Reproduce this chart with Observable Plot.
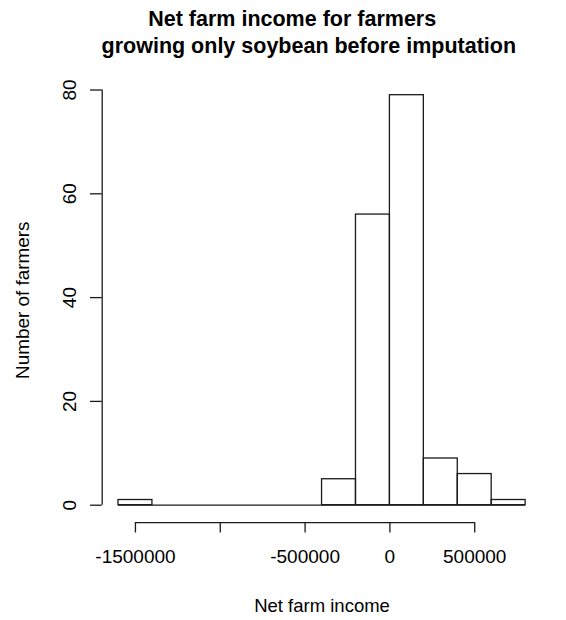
<!DOCTYPE html>
<html><head><meta charset="utf-8">
<script src="https://cdn.jsdelivr.net/npm/d3@7"></script>
<script src="https://cdn.jsdelivr.net/npm/@observablehq/plot@0.6"></script>
<style>
body{margin:0;background:#fff;font-family:"Liberation Sans",Arial,sans-serif;}
#title{width:566px;height:62px;box-sizing:border-box;padding-top:5.8px;font-weight:bold;font-size:21.5px;line-height:27.5px;color:#000;}
#title div{text-align:center;white-space:pre;}
#chart svg{display:block;}
</style></head><body>
<div id="title"><div style="padding-left:18.4px">Net farm income for farmers</div><div style="padding-left:51.6px">growing only soybean before imputation</div></div>
<div id="chart"></div>
<script>
// Histogram bins (R hist, breaks of 200000)
const binStarts = [-1600000,-1400000,-1200000,-1000000,-800000,-600000,-400000,-200000,0,200000,400000,600000];
const binEnds   = [-1400000,-1200000,-1000000,-800000,-600000,-400000,-200000,0,200000,400000,600000,800000];
const counts    = [1,0,0,0,0,0,5,56,79,9,6,1];

const xTicks = [-1500000,-1000000,-500000,0,500000];
const xTickLabels = ["-1500000","","-500000","0","500000"]; // R drops the overlapping -1000000 label
const yTicks = [0,20,40,60,80];

const xTitle = "Net farm income";
const yTitle = "Number of farmers";

const bins = binStarts.map((x0,i)=>({x0, x1: binEnds[i], count: counts[i]}));

// R "usr" extents: data range + 4% each side
const xr = [binStarts[0], binEnds[binEnds.length-1]];
const xpad = 0.04*(xr[1]-xr[0]);
const ymax = d3.max(counts);
const ypad = 0.04*ymax;

const ink = "#1a1a1a";
const font = "'Liberation Sans', Arial, sans-serif";

const chart = Plot.plot({
  width: 566, height: 558,
  marginLeft: 101.7, marginRight: 24.6, marginTop: 16.3, marginBottom: 98.9,
  x: {domain: [xr[0]-xpad, xr[1]+xpad]},
  y: {domain: [-ypad, ymax+ypad]},
  style: {fontFamily: font, background: "#fff", color: "#000", overflow: "visible"},
  marks: [
    Plot.rect(bins, {x1: "x0", x2: "x1", y1: 0, y2: "count", fill: "none", stroke: ink, strokeWidth: 1.3, inset: 0}),
    Plot.ruleY([0], {x1: xr[0], x2: xr[1], stroke: ink, strokeWidth: 1.3}),
    // x axis
    Plot.ruleY([-ypad], {x1: xTicks[0], x2: xTicks[xTicks.length-1], stroke: ink, strokeWidth: 1.3, dy: 1}),
    Plot.axisX({ticks: xTicks, tickSize: 10.4, tickFormat: () => "", label: null, stroke: ink, strokeWidth: 1.3, dy: 1}),
    Plot.text(xTicks, {x: d => d, text: (d,i) => xTickLabels[i], frameAnchor: "bottom", dy: 35.8, lineAnchor: "middle", textAnchor: "middle", fontSize: 19, fill: "#000"}),
    // y axis
    Plot.ruleX([xr[0]-xpad], {y1: yTicks[0], y2: yTicks[yTicks.length-1], stroke: ink, strokeWidth: 1.3}),
    Plot.axisY({ticks: yTicks, tickSize: 11.7, tickFormat: () => "", label: null, stroke: ink, strokeWidth: 1.3}),
    Plot.text(yTicks, {y: d => d, text: d => String(d), frameAnchor: "left", dx: -31.8, rotate: -90, lineAnchor: "middle", textAnchor: "middle", fontSize: 19, fill: "#000"}),
    // axis titles
    Plot.text([xTitle], {frameAnchor: "bottom", dy: 84.7, lineAnchor: "middle", textAnchor: "middle", fontSize: 18.5, fill: "#000"}),
    Plot.text([yTitle], {frameAnchor: "left", dx: -79.4, rotate: -90, lineAnchor: "middle", textAnchor: "middle", fontSize: 18.9, fill: "#000"})
  ]
});
document.getElementById("chart").appendChild(chart);
</script>
</body></html>
